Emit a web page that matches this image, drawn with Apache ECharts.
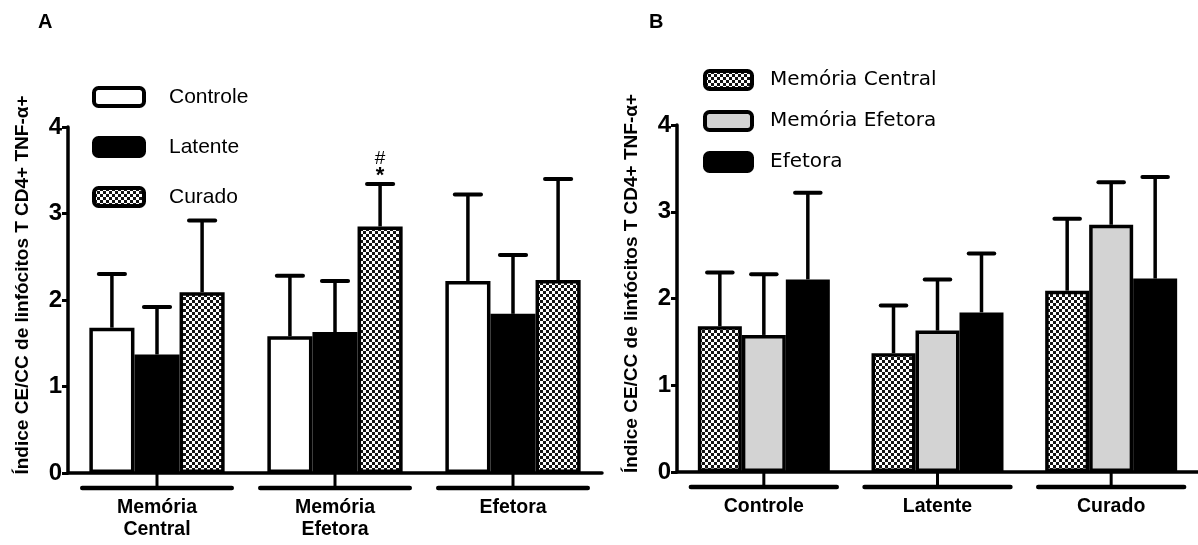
<!DOCTYPE html>
<html>
<head>
<meta charset="utf-8">
<script src="https://cdn.jsdelivr.net/npm/echarts@6/dist/echarts.min.js"></script>
<style>
html,body{margin:0;padding:0;background:#fff;}
#chart{width:1198px;height:545px;}
</style>
</head>
<body>
<div id="chart"></div>
<script>
// ---- data ----
const cellTypes = ['Memória Central', 'Memória Efetora', 'Efetora'];
const cellTypeLabels = ['Memória\nCentral', 'Memória\nEfetora', 'Efetora'];
const groups = ['Controle', 'Latente', 'Curado'];
// mean values per group, indexed by cell type
const controleMean = [1.68, 1.58, 2.22];
const latenteMean  = [1.37, 1.63, 1.84];
const curadoMean   = [2.09, 2.85, 2.23];
// upper end of error bars per group, indexed by cell type
const controleUpper = [2.30, 2.28, 3.22];
const latenteUpper  = [1.92, 2.22, 2.52];
const curadoUpper   = [2.92, 3.34, 3.40];
// significance marks above Curado bars (panel A), bottom to top
const curadoMarks = [[], ['*', '#'], []];
const yTicks = [0, 1, 2, 3, 4];
const yName = 'Índice CE/CC de linfócitos T CD4+ TNF-α+';

// ---- styles ----
const CAT_GAP = 0.24;
const FONT = '"Liberation Sans", Arial, sans-serif';
function checker() {
  const c = document.createElement('canvas');
  c.width = 6; c.height = 6;
  const g = c.getContext('2d');
  g.fillStyle = '#ffffff'; g.fillRect(0, 0, 6, 6);
  g.fillStyle = '#141414'; g.fillRect(0, 0, 3, 3); g.fillRect(3, 3, 3, 3);
  return c;
}
const pattern = {image: checker(), repeat: 'repeat'};
const borderW = 3.5;

const meansByGroup = [controleMean, latenteMean, curadoMean];
const uppersByGroup = [controleUpper, latenteUpper, curadoUpper];

function errRender(pos, nBars, marks) {
  return function (params, api) {
    const idx = api.value(0);
    const band = api.size([1, 0])[0];
    const bw = band * (1 - CAT_GAP) / nBars;
    const base = api.coord([idx, api.value(1)]);
    const top = api.coord([idx, api.value(2)]);
    const x = base[0] + (pos - (nBars - 1) / 2) * bw;
    const capHalf = bw * 0.29;
    const children = [
      {type: 'line', shape: {x1: x, y1: base[1], x2: x, y2: top[1]}, style: {stroke: '#000', lineWidth: 3.5}},
      {type: 'line', shape: {x1: x - capHalf, y1: top[1], x2: x + capHalf, y2: top[1]}, style: {stroke: '#000', lineWidth: 4, lineCap: 'round'}}
    ];
    if (marks && marks[params.dataIndex]) {
      marks[params.dataIndex].forEach(function (m, k) {
        children.push({type: 'text', style: {text: m, x: x, y: top[1] - (k === 0 ? 8 : 25), align: 'center', verticalAlign: 'middle', fill: '#000',
          font: (k === 0 ? 'bold 22px ' : '19px ') + FONT}});
      });
    }
    return {type: 'group', children: children};
  };
}

function bracketRender(params, api) {
  const idx = api.value(0);
  const band = api.size([1, 0])[0];
  const c = api.coord([idx, 0]);
  const off = 15;
  return {type: 'group', children: [
    {type: 'line', shape: {x1: c[0], y1: c[1], x2: c[0], y2: c[1] + off}, style: {stroke: '#000', lineWidth: 3}},
    {type: 'line', shape: {x1: c[0] - band * 0.42, y1: c[1] + off, x2: c[0] + band * 0.42, y2: c[1] + off}, style: {stroke: '#000', lineWidth: 4.5, lineCap: 'round'}}
  ]};
}

function yAxis(gridIndex) {
  return {
    type: 'value', gridIndex: gridIndex, min: 0, max: 4, interval: 1,
    name: yName, nameLocation: 'middle', nameGap: 36,
    nameTextStyle: {fontFamily: FONT, fontWeight: 'bold', fontSize: 19, color: '#000', padding: [0, 0, 0, 30]},
    axisLine: {show: true, lineStyle: {color: '#000', width: 3.5}},
    axisTick: {show: true, length: 6, lineStyle: {color: '#000', width: 3}},
    axisLabel: {fontFamily: FONT, fontWeight: 'bold', fontSize: 24, color: '#000', margin: 6,
      formatter: function (v) { return yTicks.indexOf(v) >= 0 ? String(v) : ''; }},
    splitLine: {show: false}
  };
}
function xAxis(gridIndex, cats) {
  return {
    type: 'category', gridIndex: gridIndex, data: cats,
    axisLine: {show: true, lineStyle: {color: '#000', width: 3.5}},
    axisTick: {show: false},
    axisLabel: {fontFamily: FONT, fontWeight: 'bold', fontSize: 19.5, color: '#000', margin: 24, lineHeight: 22, interval: 0}
  };
}

const series = [];
// Panel A bars
const aStyles = [
  {color: '#ffffff', borderColor: '#000', borderWidth: borderW},
  {color: '#000000', borderColor: '#000', borderWidth: borderW},
  {color: pattern, borderColor: '#000', borderWidth: borderW}
];
groups.forEach(function (g, gi) {
  series.push({type: 'bar', name: g, xAxisIndex: 0, yAxisIndex: 0, data: meansByGroup[gi],
    barGap: '0%', barCategoryGap: (CAT_GAP * 100) + '%', itemStyle: aStyles[gi], z: 3});
});
groups.forEach(function (g, gi) {
  series.push({type: 'custom', name: 'errA' + gi, xAxisIndex: 0, yAxisIndex: 0,
    data: cellTypes.map(function (c, ci) { return [ci, meansByGroup[gi][ci], uppersByGroup[gi][ci]]; }),
    encode: {x: 0, y: [1, 2]}, renderItem: errRender(gi, 3, gi === 2 ? curadoMarks : null), z: 2, silent: true});
});
// Panel B bars
const bStyles = [
  {color: pattern, borderColor: '#000', borderWidth: borderW},
  {color: '#d3d3d3', borderColor: '#000', borderWidth: borderW},
  {color: '#000000', borderColor: '#000', borderWidth: borderW}
];
cellTypes.forEach(function (ct, ci) {
  series.push({type: 'bar', name: ct, xAxisIndex: 1, yAxisIndex: 1,
    data: groups.map(function (g, gi) { return meansByGroup[gi][ci]; }),
    barGap: '0%', barCategoryGap: (CAT_GAP * 100) + '%', itemStyle: bStyles[ci], z: 3});
});
cellTypes.forEach(function (ct, ci) {
  series.push({type: 'custom', name: 'errB' + ci, xAxisIndex: 1, yAxisIndex: 1,
    data: groups.map(function (g, gi) { return [gi, meansByGroup[gi][ci], uppersByGroup[gi][ci]]; }),
    encode: {x: 0, y: [1, 2]}, renderItem: errRender(ci, 3, null), z: 2, silent: true});
});
// brackets under the x axes
[0, 1].forEach(function (ai) {
  series.push({type: 'custom', name: 'bracket' + ai, xAxisIndex: ai, yAxisIndex: ai,
    data: [[0], [1], [2]], encode: {x: 0}, renderItem: bracketRender, clip: false, z: 2, silent: true});
});

const chart = echarts.init(document.getElementById('chart'), null, {renderer: 'canvas'});
chart.setOption({
  animation: false,
  backgroundColor: '#ffffff',
  title: [
    {text: 'A', left: 33, top: 7, textStyle: {fontFamily: FONT, fontWeight: 'bold', fontSize: 20, color: '#000'}},
    {text: 'B', left: 644, top: 7, textStyle: {fontFamily: FONT, fontWeight: 'bold', fontSize: 20, color: '#000'}}
  ],
  grid: [
    {left: 68, width: 534, top: 127, bottom: 72},
    {left: 677, right: 0, top: 125, bottom: 73}
  ],
  xAxis: [xAxis(0, cellTypeLabels), xAxis(1, groups)],
  yAxis: [yAxis(0), yAxis(1)],
  legend: [
    {data: groups, orient: 'vertical', left: 92, top: 86, padding: 0, itemWidth: 50, itemHeight: 18, itemGap: 28,
      icon: 'roundRect', selectedMode: false,
      itemStyle: {borderColor: '#000', borderWidth: 4},
      textStyle: {fontFamily: FONT, fontSize: 21, color: '#000', padding: [0, 0, 0, 20]}},
    {data: cellTypes, orient: 'vertical', left: 703, top: 69, padding: 0, itemWidth: 47, itemHeight: 18, itemGap: 19,
      icon: 'roundRect', selectedMode: false,
      itemStyle: {borderColor: '#000', borderWidth: 4},
      textStyle: {fontFamily: '"DejaVu Sans", sans-serif', fontSize: 20, color: '#000', padding: [0, 0, 0, 13]}}
  ],
  series: series
});
</script>
</body>
</html>
